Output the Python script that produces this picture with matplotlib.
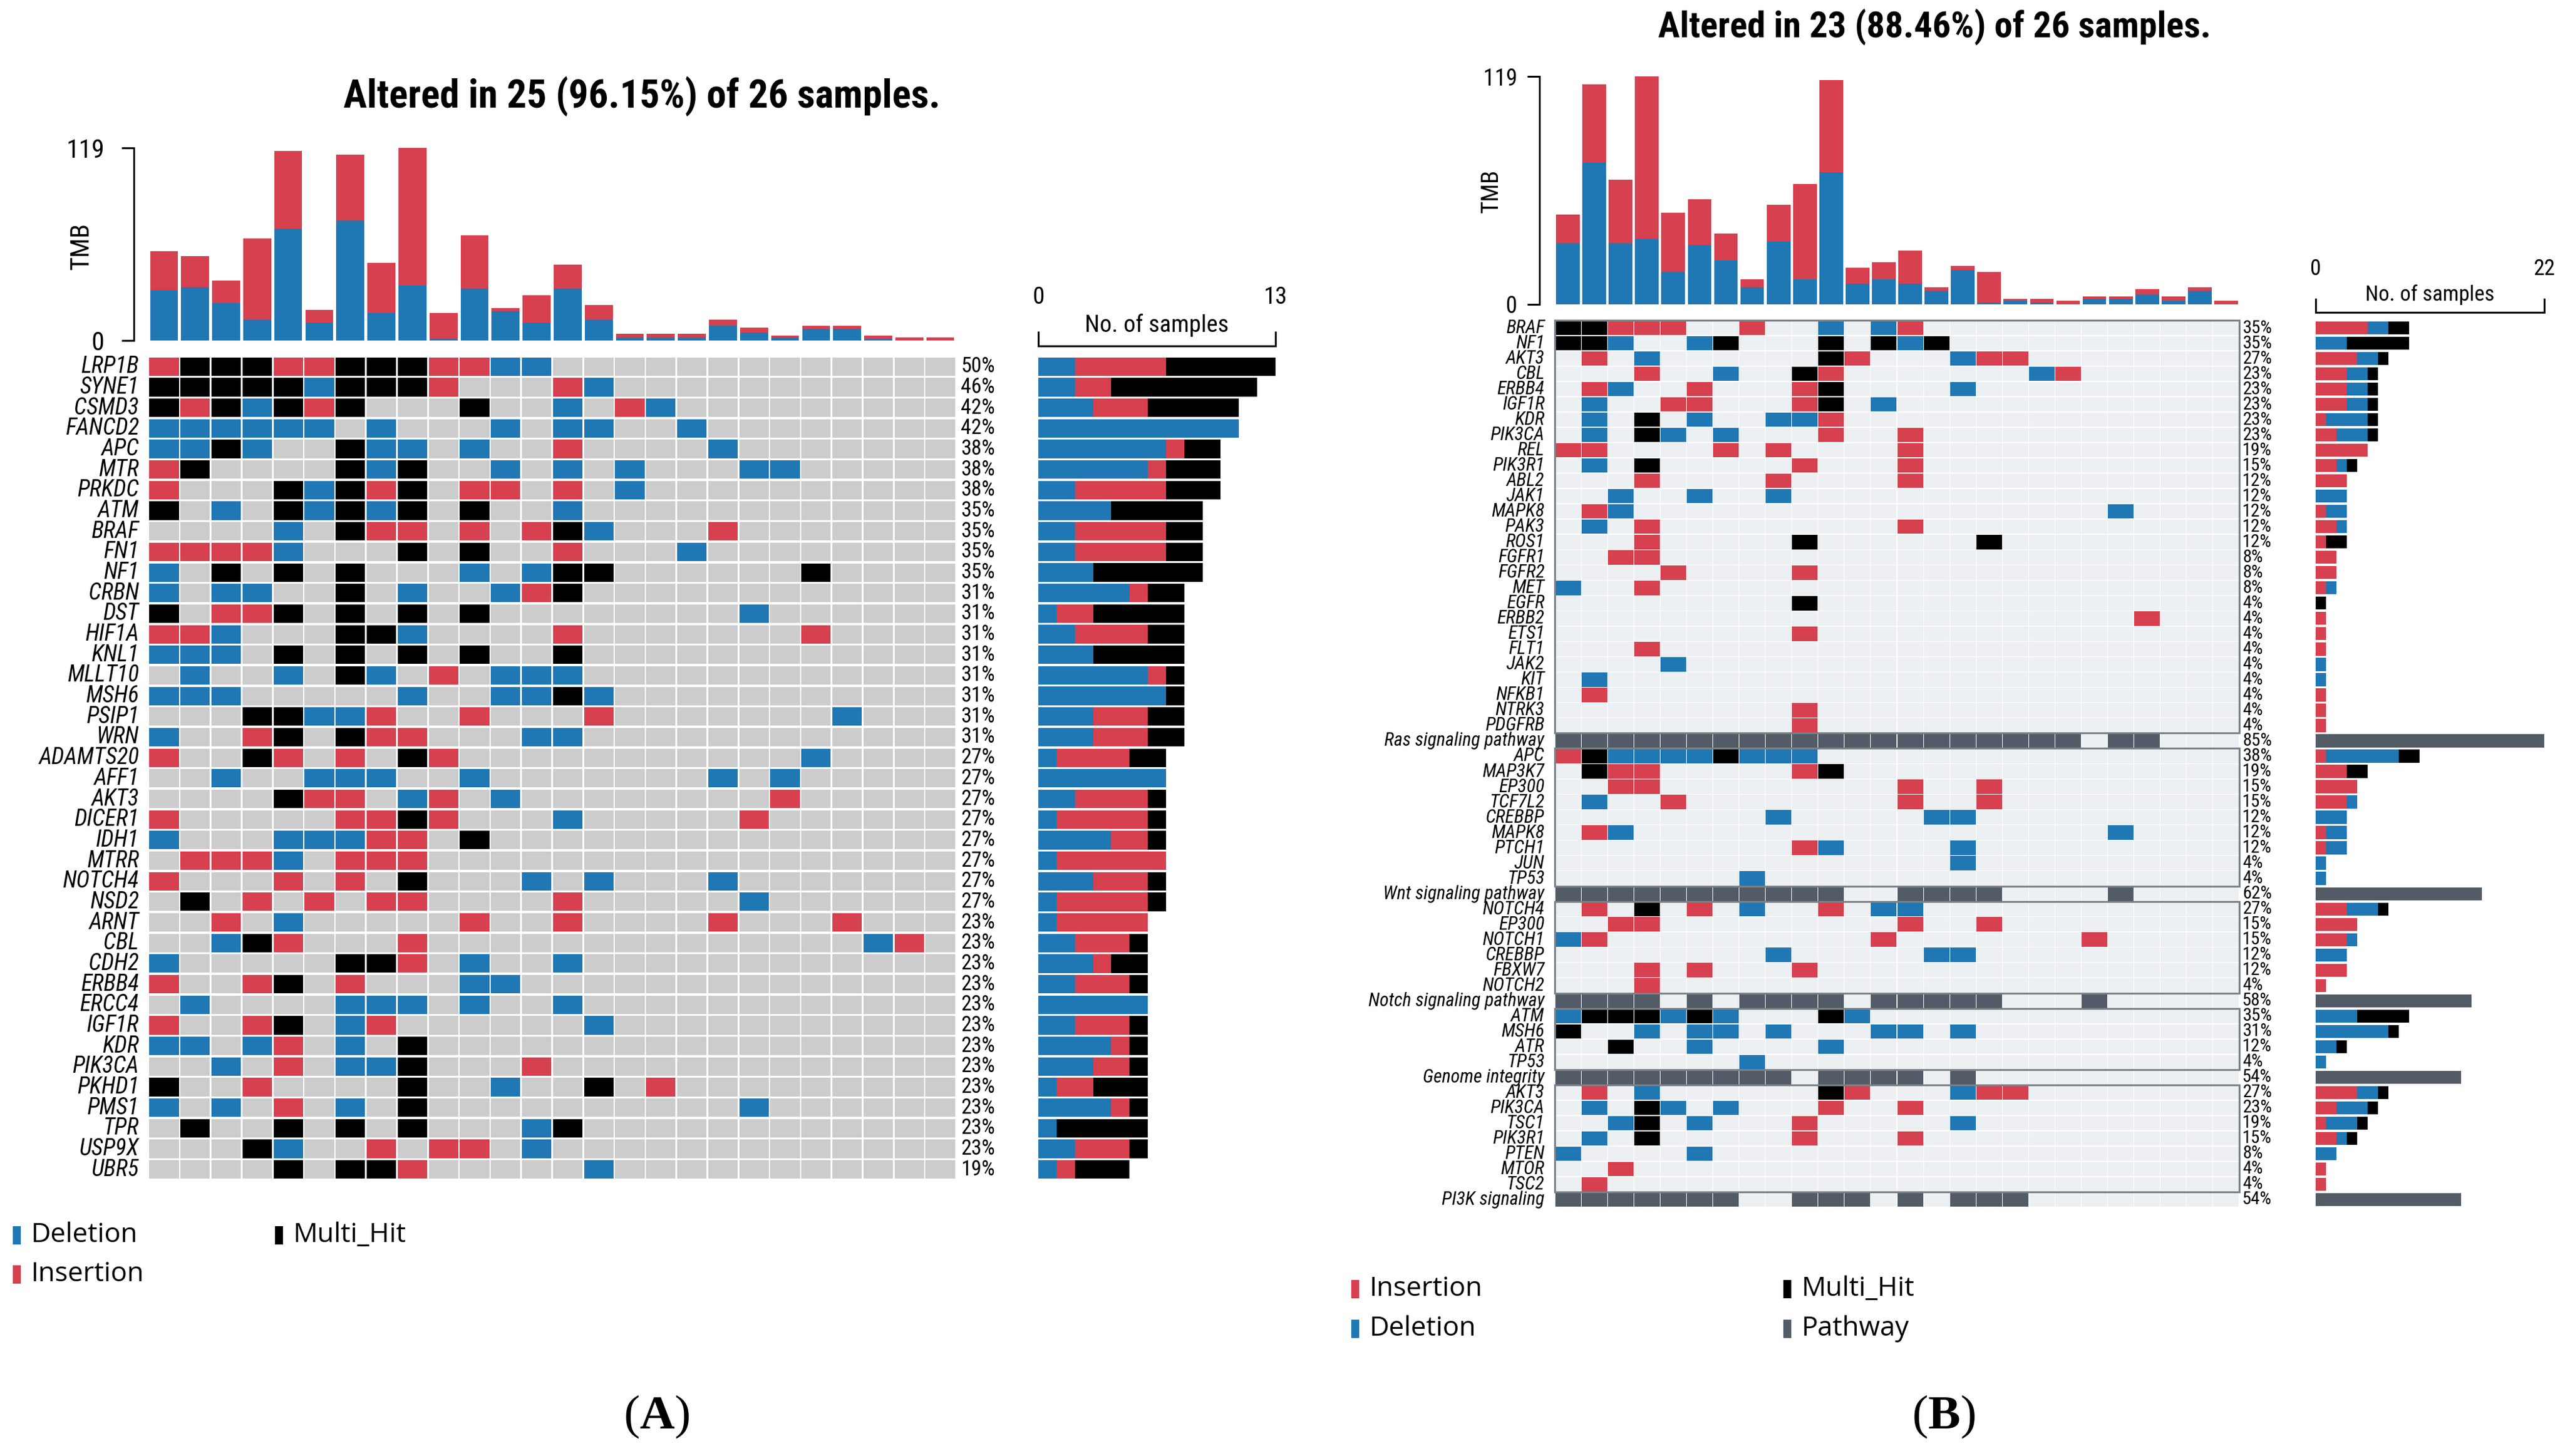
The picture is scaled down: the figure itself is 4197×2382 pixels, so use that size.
import numpy as np
import matplotlib
matplotlib.use('Agg')
import matplotlib.pyplot as plt
from matplotlib.patches import Rectangle
from matplotlib import font_manager as fm

# ---------------- DATA ----------------
genes_a = ["LRP1B", "SYNE1", "CSMD3", "FANCD2", "APC", "MTR", "PRKDC", "ATM", "BRAF", "FN1",
           "NF1", "CRBN", "DST", "HIF1A", "KNL1", "MLLT10", "MSH6", "PSIP1", "WRN", "ADAMTS20",
           "AFF1", "AKT3", "DICER1", "IDH1", "MTRR", "NOTCH4", "NSD2", "ARNT", "CBL", "CDH2",
           "ERBB4", "ERCC4", "IGF1R", "KDR", "PIK3CA", "PKHD1", "PMS1", "TPR", "USP9X", "UBR5"]
matrix_a = [
    "RKKKRRKKKRRBB.............",
    "KKKKKBKKKR...RB...........",
    "KRKBKRK...K..B.RB.........",
    "BBBBBB.B...B.BB..B........",
    "BBKB..KBB.B..R....B.......",
    "RK....KBK..B.B.B...BB.....",
    "R...KBKRK.RR.R.B..........",
    "K.B.KBKBK.K..B............",
    "....B.KRR.R.RKB...R.......",
    "RRRRB...K.K..R...B........",
    "B.K.K.K...B.BKK......K....",
    "B.BB..K.B..BRK............",
    "K.RRK.K.K.K........B......",
    "RRB...KKB....R.......R....",
    "BBB.K.K.K.K..K............",
    ".B..B.KB.R.BBB............",
    "BBB.....B..BBKB...........",
    "...KKBBR..R...R.......B...",
    "B..RK.KRR...BB............",
    "R..KR.R.KR...........B....",
    "..B..BBB..B.......B.B.....",
    "....KRR.BR.B........R.....",
    "R.....RRKR...B.....R......",
    "B...BBBRR.K...............",
    ".RRRB.RRR.................",
    "R...R.R.K...B.B...B.......",
    ".K.R.R.RR....R.....B......",
    "..R.B.....R..R....R...R...",
    "..BKR...R..............BR.",
    "B.....KKR.B..B............",
    "R..RK.R...BB..............",
    ".B....BBB.B..B............",
    "R..RK.BR......B...........",
    "BB.BR.B.K.................",
    "..B.R.BBK...R.............",
    "K..R....K..B..K.R.........",
    "B.B.R.B.K..........B......",
    ".K..K.K.K...BK............",
    "...KB..R.RR.B.............",
    "....K.KKR.....B...........",
]
tmb_del_a = [31, 33, 23, 13, 69, 11, 74, 17, 34, 1, 32, 18, 11, 32, 13, 2, 2, 2, 9, 5, 2, 7, 7, 1, 0, 0]
tmb_ins_a = [24, 19, 14, 50, 48, 8, 41, 31, 85, 16, 33, 2, 17, 15, 9, 2, 2, 2, 4, 3, 1, 2, 2, 2, 2, 2]
title_a = "Altered in 25 (96.15%) of 26 samples."

genes_b = ["BRAF", "NF1", "AKT3", "CBL", "ERBB4", "IGF1R", "KDR", "PIK3CA", "REL", "PIK3R1",
           "ABL2", "JAK1", "MAPK8", "PAK3", "ROS1", "FGFR1", "FGFR2", "MET", "EGFR", "ERBB2",
           "ETS1", "FLT1", "JAK2", "KIT", "NFKB1", "NTRK3", "PDGFRB", "Ras signaling pathway",
           "APC", "MAP3K7", "EP300", "TCF7L2", "CREBBP", "MAPK8", "PTCH1", "JUN", "TP53",
           "Wnt signaling pathway",
           "NOTCH4", "EP300", "NOTCH1", "CREBBP", "FBXW7", "NOTCH2", "Notch signaling pathway",
           "ATM", "MSH6", "ATR", "TP53", "Genome integrity",
           "AKT3", "PIK3CA", "TSC1", "PIK3R1", "PTEN", "MTOR", "TSC2", "PI3K signaling"]
matrix_b = [
    "KKRRR..R..B.BR............",
    "KKB..BK...K.KBK...........",
    ".R.B......KR...BRR........",
    "...R..B..KR.......BR......",
    ".RB..R...RK....B..........",
    ".B..RR...RK.B.............",
    ".B.K.B..BBR...............",
    ".B.KB.B...R..R............",
    "RR....R.R....R............",
    ".B.K.....R...R............",
    "...R....R....R............",
    "..B..B..B.................",
    ".RB..................B....",
    ".B.R.........R............",
    "...R.....K......K.........",
    "..RR......................",
    "....R....R................",
    "B..R......................",
    ".........K................",
    "......................R...",
    ".........R................",
    "...R......................",
    "....B.....................",
    ".B........................",
    ".R........................",
    ".........R................",
    ".........R................",
    "PPPPPPPPPPPPPPPPPPPP.PP...",
    "RKBBBBKBBB................",
    ".KRR.....RK...............",
    "..RR.........R..R.........",
    ".B..R........R..R.........",
    "........B.....BB..........",
    ".RB..................B....",
    ".........RB....B..........",
    "...............B..........",
    ".......B..................",
    "PPPPPPPPPPP..PPPP....P....",
    ".R.K.R.B..R.BB............",
    "..RR.........R..R.........",
    "BR..........R.......R.....",
    "........B.....BB..........",
    "...R.R...R................",
    "...R......................",
    "PPPP.P.PPPP.PPPPP...P.....",
    "BKKKBKB...KB..............",
    "K..B.BB.B...BB.B..........",
    "..K..B....B...............",
    ".......B..................",
    "PPPPPPPPP.PPPP.P..........",
    ".R.B......KR...BRR........",
    ".B.KB.B...R..R............",
    "..BK.B...R.....B..........",
    ".B.K.....R...R............",
    "B....B....................",
    "..R.......................",
    ".R........................",
    "PPPPPPP..PPP.P.PPP........",
]
tmb_del_b = [32, 74, 32, 34, 17, 31, 23, 9, 33, 13, 69, 11, 13, 11, 7, 18, 1, 2, 1, 0, 3, 3, 5, 2, 7, 0]
tmb_ins_b = [15, 41, 33, 85, 31, 24, 14, 4, 19, 50, 48, 8, 9, 17, 2, 2, 16, 1, 2, 2, 1, 1, 3, 2, 2, 2]
title_b = "Altered in 23 (88.46%) of 26 samples."

legend_a = [("Deletion", "B"), ("Insertion", "R"), ("Multi_Hit", "K")]
legend_b = [("Insertion", "R"), ("Deletion", "B"), ("Multi_Hit", "K"), ("Pathway", "P")]

# ---------------- STYLE ----------------
W, H, DPI = 4197, 2382, 100
RED, BLUE, BLACK, PATH = "#D6404F", "#1F77B4", "#000000", "#535B66"
COL = {"R": RED, "B": BLUE, "K": BLACK, "P": PATH}
GRAY_A, GRAY_B, BOXC = "#CCCCCC", "#EDF0F2", "#7A8188"

_names = {f.name for f in fm.fontManager.ttflist}
if "Roboto Condensed" in _names:
    CF, K = "Roboto Condensed", 1.13
elif "Liberation Sans Narrow" in _names:
    CF, K = "Liberation Sans Narrow", 1.2
else:
    CF, K = "Liberation Sans", 1.0
LEGF = "Open Sans" if "Open Sans" in _names else "DejaVu Sans"
plt.rcParams["font.family"] = [CF, "Liberation Sans", "DejaVu Sans"]
plt.rcParams["mathtext.fontset"] = "custom"
plt.rcParams["mathtext.bf"] = "Liberation Serif:bold"
plt.rcParams["mathtext.rm"] = "Liberation Serif"

fig = plt.figure(figsize=(W / DPI, H / DPI), dpi=DPI)
fig.patch.set_facecolor("white")


def axpx(x0, y0, x1, y1):
    ax = fig.add_axes([x0 / W, 1 - y1 / H, (x1 - x0) / W, (y1 - y0) / H])
    ax.patch.set_alpha(0)
    return ax


def ftext(x, y, s, **kw):
    return fig.text(x / W, 1 - y / H, s, **kw)


def frect(x, yc, w, h, color):
    fig.add_artist(Rectangle((x / W, 1 - (yc + h / 2) / H), w / W, h / H,
                             transform=fig.transFigure, facecolor=color, edgecolor="none"))


def tmb_axes(x0, y0, x1, y1, dels, ins, off_px, tick_px, pad_px, fs, lab_xy, lab_fs):
    ax = axpx(x0, y0, x1, y1)
    x = np.arange(len(dels)) + 0.5
    d = np.array(dels)
    ax.bar(x, d, width=0.9, color=BLUE, linewidth=0)
    ax.bar(x, ins, width=0.9, bottom=d, color=RED, linewidth=0)
    ax.set_xlim(0, len(dels))
    ax.set_ylim(0, 119)
    for s in ("top", "right", "bottom"):
        ax.spines[s].set_visible(False)
    ax.spines["left"].set_position(("outward", off_px * 0.72))
    ax.spines["left"].set_bounds(0, 119)
    ax.spines["left"].set_linewidth(2)
    ax.set_xticks([])
    ax.set_yticks([0, 119])
    ax.tick_params(axis="y", length=tick_px * 0.72, width=2.2, pad=pad_px * 0.72, labelsize=fs * K)
    ftext(lab_xy[0], lab_xy[1], "TMB", rotation=90, ha="center", va="center", fontsize=lab_fs * K)
    return ax


def grid_axes(x0, y0, x1, y1, rows, names, bg, gx, gy, lab_off, lab_fs, pct_off, pct_fs):
    ax = axpx(x0, y0, x1, y1)
    n, m = len(rows), len(rows[0])
    ax.set_xlim(0, m)
    ax.set_ylim(n, 0)
    ax.axis("off")
    for r, row in enumerate(rows):
        for c, ch in enumerate(row):
            ax.add_patch(Rectangle((c + gx, r + gy), 1 - 2 * gx, 1 - 2 * gy,
                                   facecolor=COL.get(ch, bg), edgecolor="none", linewidth=0))
        cnt = sum(1 for ch in row if ch != ".")
        ax.text(-lab_off, r + 0.5, names[r], ha="right", va="center", fontsize=lab_fs * K,
                style="italic", clip_on=False)
        ax.text(m + pct_off, r + 0.5, "%d%%" % round(cnt / m * 100), ha="left", va="center",
                fontsize=pct_fs * K, clip_on=False)
    return ax


def side_bars(x0, y0, x1, y1, rows, order, maxv, bh, off_px, tick_px, pad_px, fs, lab_y, lab_fs):
    ax = axpx(x0, y0, x1, y1)
    n = len(rows)
    for r, row in enumerate(rows):
        left = 0
        for ch in order:
            v = row.count(ch)
            if v:
                ax.barh(r + 0.5, v, left=left, height=bh, color=COL[ch], linewidth=0)
                left += v
    ax.set_xlim(0, maxv)
    ax.set_ylim(n, 0)
    for s in ("left", "right", "bottom"):
        ax.spines[s].set_visible(False)
    ax.spines["top"].set_position(("outward", off_px * 0.72))
    ax.spines["top"].set_linewidth(2.2)
    ax.set_yticks([])
    ax.xaxis.set_ticks_position("top")
    ax.set_xticks([0, maxv])
    ax.set_xticklabels(["0", str(maxv)])
    ax.tick_params(axis="x", direction="out", length=tick_px * 0.72, width=2.2,
                   pad=pad_px * 0.72, labelsize=fs * K)
    ftext((x0 + x1) / 2, lab_y, "No. of samples", ha="center", va="center", fontsize=lab_fs * K)
    return ax


def legend(items, x_cols, y_rows, fs):
    for i, (lab, ch) in enumerate(items):
        col, row = i // 2, i % 2
        x, y = x_cols[col], y_rows[row]
        frect(x, y, 13, 30, COL[ch])
        fig.text((x + 30) / W, 1 - y / H, lab, ha="left", va="center", fontsize=fs,
                 family=[LEGF, "DejaVu Sans"])


# ---------------- PANEL A ----------------
ftext(1050, 157, title_a, ha="center", va="center", fontsize=41 * K, fontweight="bold")
tmb_axes(243, 242, 1564, 557, tmb_del_a, tmb_ins_a, 24, 20, 28, 27, (133, 402), 27)
grid_axes(243, 583, 1564, 1930, matrix_a, genes_a, GRAY_A, 0.025, 0.052, 0.31, 24, 0.16, 22)
side_bars(1699, 583, 2087, 1930, matrix_a, "BRK", 13, 0.9, 17, 24, 37, 25, 532, 25)
legend(legend_a, [21, 450], [2021, 2085], 32)
ftext(1074, 2318, r"($\mathbf{A}$)", ha="center", va="center", fontsize=57, family="Liberation Serif")

# ---------------- PANEL B ----------------
ftext(3165, 45, title_b, ha="center", va="center", fontsize=38 * K, fontweight="bold")
tmb_axes(2544, 125, 3664, 498, tmb_del_b, tmb_ins_b, 25, 20, 16, 24, (2440, 312), 25)
axg = grid_axes(2544, 524, 3664, 1975, matrix_b, genes_b, GRAY_B, 0.012, 0.03, 0.39, 19.5, 0.12, 19)
path_rows = [i for i, row in enumerate(matrix_b) if set(row) <= {"P", "."} and "P" in row]
start = 0
for pr in path_rows:
    axg.add_patch(Rectangle((0, start), len(matrix_b[0]), pr - start, fill=False,
                            edgecolor=BOXC, linewidth=2.2, clip_on=False, zorder=5))
    start = pr + 1
side_bars(3789, 524, 4163, 1975, matrix_b, "RBKP", 22, 0.85, 13, 23, 30, 23, 482, 22.5)
legend(legend_b, [2211, 2918], [2109, 2174], 32)
ftext(3180, 2318, r"($\mathbf{B}$)", ha="center", va="center", fontsize=57, family="Liberation Serif")

fig.savefig("out.png", dpi=DPI, facecolor="white")
